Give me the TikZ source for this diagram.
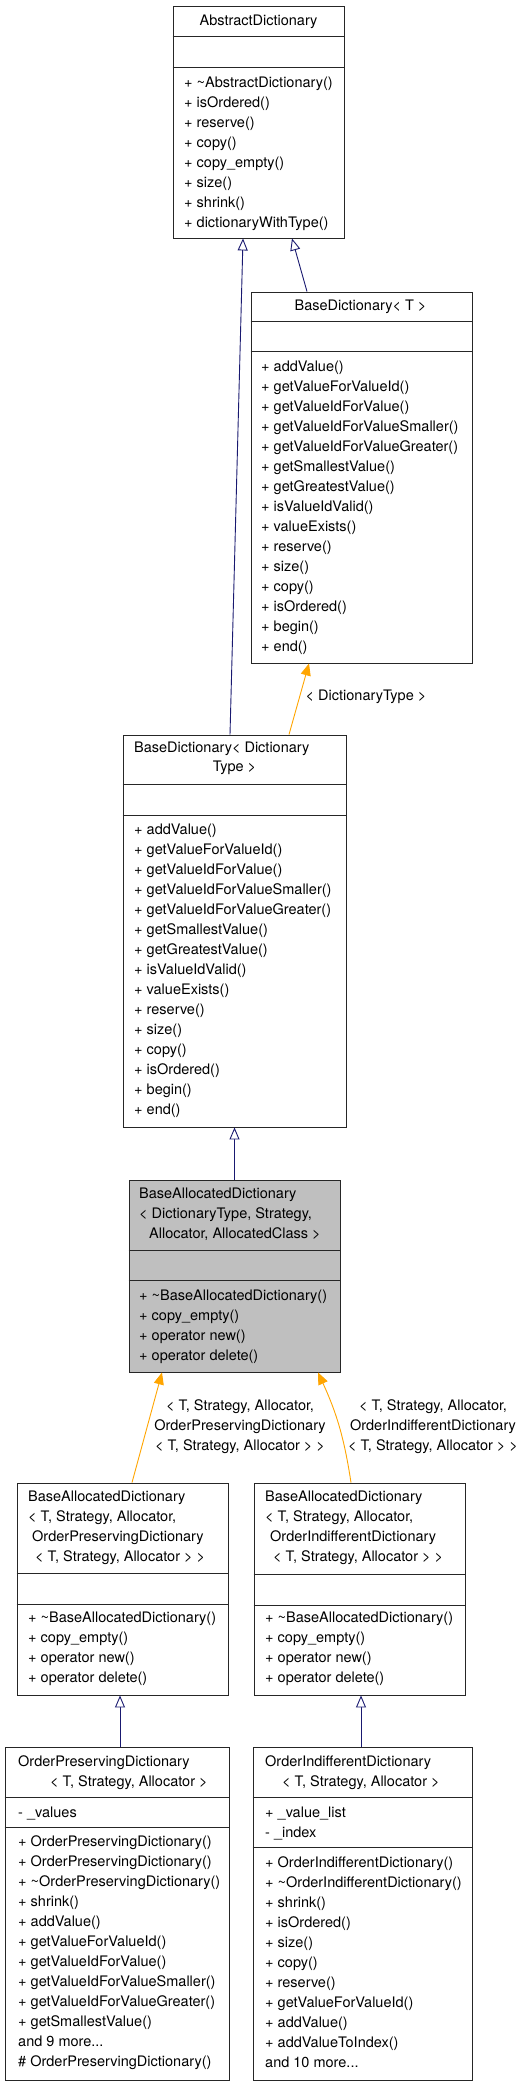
\documentclass[tikz,border=0pt]{standalone}
\usepackage{fontspec}
\setmainfont{TeX Gyre Heros}
\usetikzlibrary{arrows.meta,positioning,calc}
\definecolor{edgeblue}{HTML}{191970}
\definecolor{edgeorange}{HTML}{FFA500}
\definecolor{boxgray}{HTML}{BFBFBF}
\tikzset{
  classbox/.style={draw=black!85,line width=0.9pt,fill=white,inner sep=0pt},
  sepline/.style={draw=black!85,line width=1.1pt},
  txt/.style={inner sep=0pt,font=\fontsize{14.5}{20}\selectfont},
  member/.style={txt,anchor=west,text height=10pt,text depth=1pt},
  inherit/.style={draw=edgeblue,line width=0.9pt,-{Triangle[open,length=12pt,width=10pt,fill=white]}},
  usage/.style={draw=edgeorange,line width=0.9pt,-{Triangle[length=12pt,width=10pt]}},
}

\begin{document}
\begin{tikzpicture}[x=1pt,y=-1pt]
  \useasboundingbox[fill=white] (0,0) rectangle (527,2085);

  % class boxes
  \node[classbox,minimum width=171pt,minimum height=232pt] (abs) at (258.5,122) {};
  \node[classbox,minimum width=221pt,minimum height=371pt] (bdT) at (361.5,477.5) {};
  \node[classbox,minimum width=223pt,minimum height=392pt] (bdDT) at (234.5,931) {};
  \node[classbox,fill=boxgray,minimum width=211pt,minimum height=192pt] (bad) at (234.5,1276) {};
  \node[classbox,minimum width=211pt,minimum height=212pt] (badp) at (122.5,1589) {};
  \node[classbox,minimum width=211pt,minimum height=212pt] (badi) at (359.5,1589) {};
  \node[classbox,minimum width=224pt,minimum height=333pt] (opd) at (117,1913.5) {};
  \node[classbox,minimum width=219pt,minimum height=333pt] (oid) at (362.5,1913.5) {};

  % compartments
  \foreach \bx/\a/\b in {abs/31/62, bdT/30/60, bdDT/50/81, bad/71/101, badp/91/122, badi/92/123, opd/51/81, oid/51/101} {
    \draw[sepline] ($(\bx.north west)+(0,\a)$) -- ($(\bx.north east)+(0,\a)$);
    \draw[sepline] ($(\bx.north west)+(0,\b)$) -- ($(\bx.north east)+(0,\b)$);
  }

  % headers
  \node[txt] (abs-name) at (258.5,22) {AbstractDictionary};
  \node[txt] (bdT-name) at (360.5,307) {BaseDictionary< T >};
  \node[member] (bdDT-name1) at (134,748) {BaseDictionary< Dictionary};
  \node[txt] (bdDT-name2) at (234.5,768) {Type >};
  \node[member] (bad-name1) at (139,1194) {BaseAllocatedDictionary};
  \node[member] (bad-name2) at (139,1214) {< DictionaryType, Strategy,};
  \node[member] (bad-name3) at (149,1234) {Allocator, AllocatedClass >};
  \node[member] (badp-name1) at (28,1497) {BaseAllocatedDictionary};
  \node[member] (badp-name2) at (28,1517) {< T, Strategy, Allocator,};
  \node[member] (badp-name3) at (32,1537) {OrderPreservingDictionary};
  \node[member] (badp-name4) at (35,1557) {< T, Strategy, Allocator > >};
  \node[member] (badi-name1) at (265,1497) {BaseAllocatedDictionary};
  \node[member] (badi-name2) at (265,1517) {< T, Strategy, Allocator,};
  \node[member] (badi-name3) at (270,1537) {OrderIndifferentDictionary};
  \node[member] (badi-name4) at (273,1557) {< T, Strategy, Allocator > >};
  \node[member] (opd-name1) at (18,1762) {OrderPreservingDictionary};
  \node[member] (opd-name2) at (50,1782) {< T, Strategy, Allocator >};
  \node[member] (oid-name1) at (265,1762) {OrderIndifferentDictionary};
  \node[member] (oid-name2) at (282,1782) {< T, Strategy, Allocator >};

  % attributes
  \node[member] (opd-a1) at (18,1813) {- \_values};
  \node[member] (oid-a1) at (265,1813) {+ \_value\_list};
  \node[member] (oid-a2) at (265,1833) {- \_index};

  % operations
  \foreach \m [count=\i] in {+ \textasciitilde AbstractDictionary(), + isOrdered(), + reserve(), + copy(),
      + copy\_empty(), + size(), + shrink(), + dictionaryWithType()}
    \node[member] (abs-m\i) at (184,63+20*\i) {\m};
  \foreach \bx/\x/\y in {bdT/261/347, bdDT/134/810} {
    \foreach \m [count=\i] in {+ addValue(), + getValueForValueId(), + getValueIdForValue(),
        + getValueIdForValueSmaller(), + getValueIdForValueGreater(), + getSmallestValue(),
        + getGreatestValue(), + isValueIdValid(), + valueExists(), + reserve(), + size(),
        + copy(), + isOrdered(), + begin(), + end()}
      \node[member] (\bx-m\i) at (\x,\y+20*\i) {\m};
  }
  \foreach \bx/\x/\y in {bad/139/1276, badp/28/1598, badi/265/1598} {
    \foreach \m [count=\i] in {+ \textasciitilde BaseAllocatedDictionary(), + copy\_empty(),
        + operator new(), + operator delete()}
      \node[member] (\bx-m\i) at (\x,\y+20*\i) {\m};
  }
  \foreach \m [count=\i] in {+ OrderPreservingDictionary(), + OrderPreservingDictionary(),
      + \textasciitilde OrderPreservingDictionary(), + shrink(), + addValue(), + getValueForValueId(),
      + getValueIdForValue(), + getValueIdForValueSmaller(), + getValueIdForValueGreater(),
      + getSmallestValue()}
    \node[member] (opd-m\i) at (18,1822+20*\i) {\m};
  \node[member] (opd-m11) at (18,2042) {and 9 more...};
  \node[member] (opd-m12) at (18,2062) {\# OrderPreservingDictionary()};
  \foreach \m [count=\i] in {+ OrderIndifferentDictionary(), + \textasciitilde OrderIndifferentDictionary(),
      + shrink(), + isOrdered(), + size(), + copy(), + reserve(), + getValueForValueId(),
      + addValue(), + addValueToIndex()}
    \node[member] (oid-m\i) at (265,1843+20*\i) {\m};
  \node[member] (oid-m11) at (265,2063) {and 10 more...};

  % inheritance
  \draw[inherit] ($(bdDT.north)+(-4.5,0)$) -- ($(abs.south)+(-15.5,0)$);
  \draw[inherit] ($(bdT.north)+(-54.5,0)$) -- ($(abs.south)+(33.5,0)$);
  \draw[inherit] (bad.north) -- (bdDT.south);
  \draw[inherit] ($(opd.north)+(3,0)$) -- ($(badp.south)+(-2.5,0)$);
  \draw[inherit] ($(oid.north)+(-1.5,0)$) -- ($(badi.south)+(1.5,0)$);

  % template instances
  \draw[usage] ($(bdDT.north)+(54.5,0)$) -- ($(bdT.south)+(-52.5,0)$);
  \node[txt] (lbl-dt) at (366,697) {< DictionaryType >};
  \draw[usage] ($(badp.north)+(9.5,0)$) -- ($(bad.south)+(-72.5,0)$);
  \node[txt,align=center] (lbl-op) at (240,1427) {< T, Strategy, Allocator,\\OrderPreservingDictionary\\< T, Strategy, Allocator > >};
  \draw[usage] ($(badi.north)+(-8.5,0)$) to[bend right=8] ($(bad.south)+(83.5,0)$);
  \node[txt,align=center] (lbl-oi) at (433,1427) {< T, Strategy, Allocator,\\OrderIndifferentDictionary\\< T, Strategy, Allocator > >};
\end{tikzpicture}
\end{document}
